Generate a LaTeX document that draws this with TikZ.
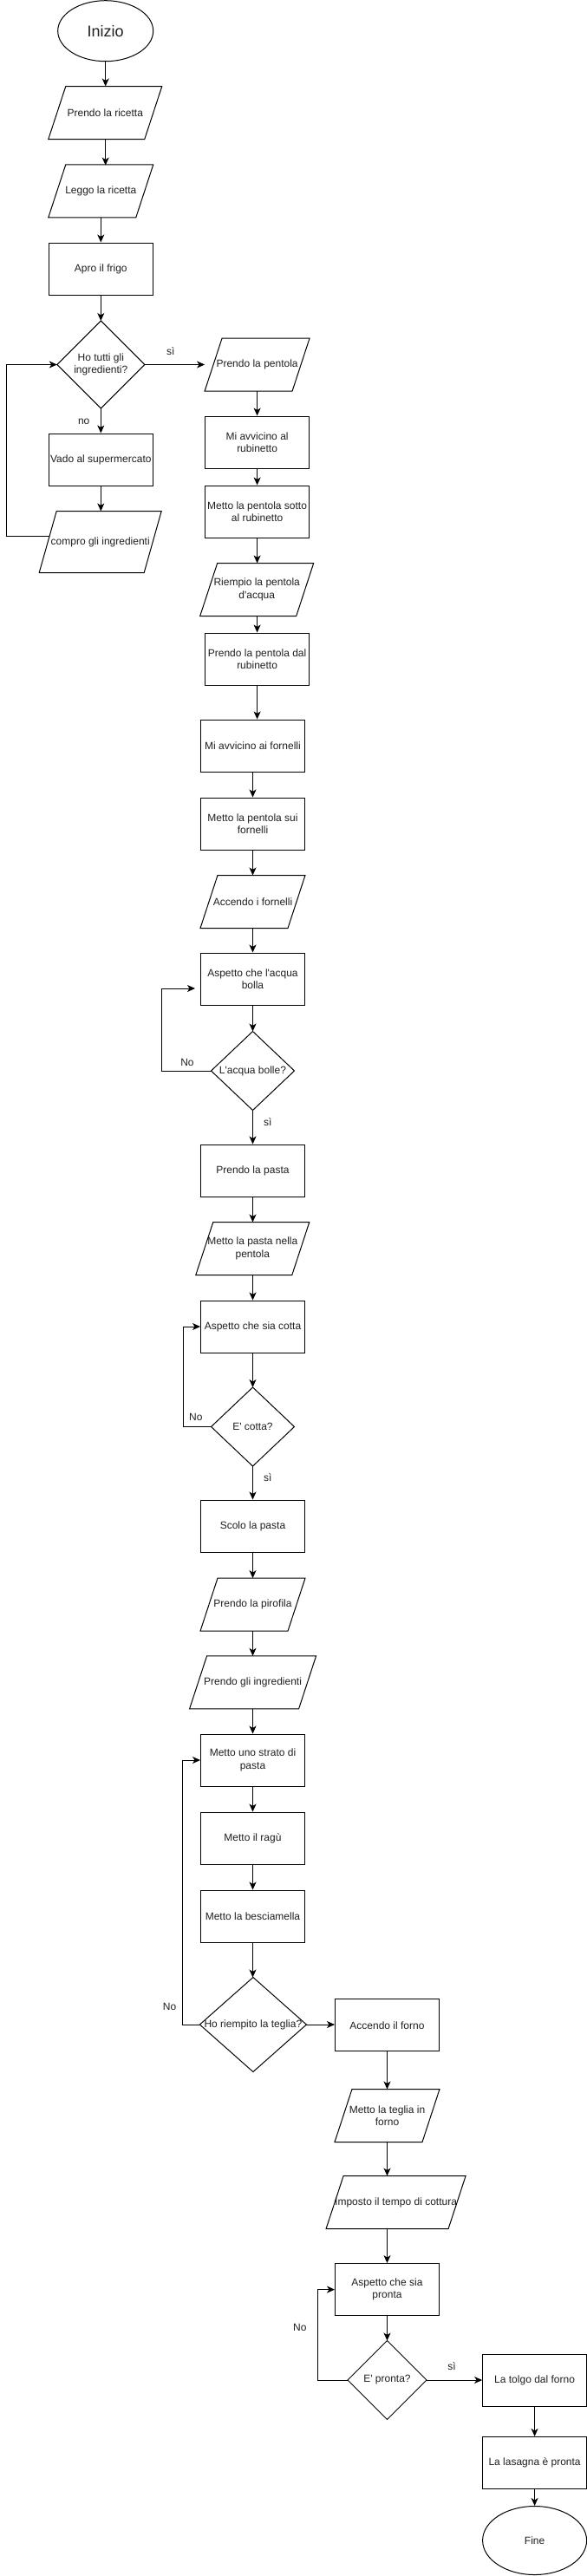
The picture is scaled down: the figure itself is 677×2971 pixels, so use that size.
\documentclass[tikz,border=0pt]{standalone}
\usepackage{fontspec}
\setmainfont{Liberation Sans}[Ligatures=TeXOff]
\usetikzlibrary{arrows.meta,calc,shapes.geometric}
\newcommand\drawpara[1]{\draw ([xshift=20pt]#1.north west) -- (#1.north east) -- ([xshift=-20pt]#1.south east) -- (#1.south west) -- cycle;}
\newcommand\drawdiam[1]{\draw (#1.north) -- (#1.east) -- (#1.south) -- (#1.west) -- cycle;}
\begin{document}
\begin{tikzpicture}[x=1pt,y=-1pt,line width=1pt,
  every node/.style={font=\fontsize{12}{14.5}\selectfont, inner sep=0pt, align=center, text=black!88},
  box/.style={draw, rectangle, minimum width=120pt, minimum height=60pt},
  pbox/.style={rectangle, minimum width=120pt, minimum height=60pt},
  dbox/.style={rectangle},
  term/.style={draw, ellipse, minimum width=120pt, minimum height=80pt},
  lbl/.style={font=\fontsize{12}{14.5}\selectfont},
  arr/.style={draw, -{Stealth[length=9pt,width=8pt,inset=2.5pt]}}
]
\useasboundingbox (0,0) rectangle (677,2971);

% left column
\node[term, minimum width=110pt, minimum height=70pt, font=\fontsize{18}{22}\selectfont] (inizio) at (121.7,35.7) {Inizio};
\node[pbox, minimum width=130pt] (p1) at (121.3,130) {Prendo la ricetta};
\node[pbox] (p2) at (116.3,220.3) {Leggo la ricetta};
\node[box] (r1) at (116.3,310) {Apro il frigo};
\node[dbox, minimum width=100pt, minimum height=100pt] (d1) at (116.3,420.5) {Ho tutti gli\\ingredienti?};
\node[box] (r2) at (116.3,530) {Vado al supermercato};
\node[pbox, minimum width=140pt, minimum height=70pt] (p3) at (115.7,625) {compro gli ingredienti};

% second column
\node[pbox] (p4) at (296.6,420.5) {Prendo la pentola};
\node[box] (r3) at (296.6,510) {Mi avvicino al\\rubinetto};
\node[box] (r4) at (296.6,590) {Metto la pentola sotto\\al rubinetto};
\node[pbox, minimum width=130pt] (p5) at (296.2,680) {Riempio la pentola\\d'acqua};
\node[box] (r5) at (296.6,760) {Prendo la pentola dal\\rubinetto};
\node[box] (r6) at (291.5,860) {Mi avvicino ai fornelli};
\node[box] (r7) at (291.5,950) {Metto la pentola sui\\fornelli};
\node[pbox] (p6) at (291.5,1040) {Accendo i fornelli};
\node[box] (r8) at (291.5,1129) {Aspetto che l'acqua\\bolla};
\node[dbox, minimum width=95pt, minimum height=90pt] (d2) at (291.5,1235) {L'acqua bolle?};
\node[box] (r9) at (291.5,1350) {Prendo la pasta};
\node[pbox, minimum width=130pt] (p7) at (291.3,1440) {Metto la pasta nella\\pentola};
\node[box] (r10) at (291.5,1530) {Aspetto che sia cotta};
\node[dbox, minimum width=95pt, minimum height=90pt] (d3) at (291.5,1645.5) {E' cotta?};
\node[box] (r11) at (291.5,1760) {Scolo la pasta};
\node[pbox] (p8) at (291.5,1850.6) {Prendo la pirofila};
\node[pbox, minimum width=145pt] (p9) at (291.6,1940.3) {Prendo gli ingredienti};
\node[box] (r12) at (291.5,2030) {Metto uno strato di\\pasta};
\node[box] (r13) at (291.5,2120) {Metto il ragù};
\node[box] (r14) at (291.5,2210) {Metto la besciamella};
\node[dbox, minimum width=122pt, minimum height=108pt] (d4) at (291.9,2335) {Ho riempito la teglia?};

% third column
\node[box] (r15) at (446.5,2335.7) {Accendo il forno};
\node[pbox] (p10) at (446.5,2440) {Metto la teglia in\\forno};
\node[pbox, minimum width=160pt] (p11) at (456.6,2540) {Imposto il tempo di cottura};
\node[box] (r16) at (446.5,2640.6) {Aspetto che sia\\pronta};
\node[dbox, minimum width=90pt, minimum height=90pt] (d5) at (446.5,2745) {E' pronta?};

% fourth column
\node[box] (r17) at (616.6,2745) {La tolgo dal forno};
\node[box] (r18) at (616.6,2840.4) {La lasagna è pronta};
\node[term, minimum width=120pt, minimum height=79pt] (fine) at (616.6,2930) {Fine};

% outlines
\foreach \n in {p1,p2,p3,p4,p5,p6,p7,p8,p9,p10,p11} {\drawpara{\n}}
\foreach \n in {d1,d2,d3,d4,d5} {\drawdiam{\n}}

% labels
\node[lbl] (l1) at (196.7,405) {sì};
\node[lbl] (l2) at (96.7,486) {no};
\node[lbl] (l3) at (216,1225) {No};
\node[lbl] (l4) at (308.7,1294) {sì};
\node[lbl] (l5) at (225.8,1634) {No};
\node[lbl] (l6) at (308.7,1704) {sì};
\node[lbl] (l7) at (195.6,2314.6) {No};
\node[lbl] (l8) at (345.9,2684) {No};
\node[lbl] (l9) at (521,2729.6) {sì};

% connectors
\draw[arr] (inizio.south) -- (inizio.south |- p1.north);
\draw[arr] (121.7,160) -- (121.7,190.6);
\draw[arr] (p2.south) -- (p2.south |- r1.north);
\draw[arr] (r1.south) -- (d1.north);
\draw[arr] (d1.south) -- (r2.north);
\draw[arr] (r2.south) -- (r2.south |- p3.north);
\coordinate (p3l) at ($([xshift=20pt]p3.north west)!0.404!(p3.south west)$);
\draw[arr] (p3l) -| (7.3,420.5) -- (d1.west);
\draw[arr] (d1.east) -- (p4.west);
\draw[arr] (p4.south) -- (r3.north);
\draw[arr] (r3.south) -- (r4.north);
\draw[arr] (r4.south) -- (r4.south |- p5.north);
\draw[arr] (p5.south -| r5.north) -- (r5.north);
\draw[arr] (r5.south) -- (r5.south |- r6.north);
\draw[arr] (r6.south) -- (r7.north);
\draw[arr] (r7.south) -- (p6.north);
\draw[arr] (p6.south) -- (r8.north);
\draw[arr] (r8.south) -- (d2.north);
\draw[arr] (d2.west) -| (186.5,1140) -- ([yshift=-11pt,xshift=-6pt]r8.west);
\draw[arr] (d2.south) -- (r9.north);
\draw[arr] (r9.south) -- (r9.south |- p7.north);
\draw[arr] (p7.south -| r10.north) -- (r10.north);
\draw[arr] (r10.south) -- (d3.north);
\draw[arr] (d3.west) -| (211.6,1530) -- (r10.west);
\draw[arr] (d3.south) -- (r11.north);
\draw[arr] (r11.south) -- (p8.north);
\draw[arr] (p8.south) -- (p8.south |- p9.north);
\draw[arr] (p9.south -| r12.north) -- (r12.north);
\draw[arr] (r12.south) -- (r13.north);
\draw[arr] (r13.south) -- (r14.north);
\draw[arr] (r14.south) -- (r14.south |- d4.north);
\draw[arr] (d4.west) -| (210,2030) -- (r12.west);
\draw[arr] (d4.east) -- (d4.east -| r15.west);
\draw[arr] (r15.south) -- (p10.north);
\draw[arr] (p10.south) -- (p10.south |- p11.north);
\draw[arr] (p11.south -| r16.north) -- (r16.north);
\draw[arr] (r16.south) -- (d5.north);
\draw[arr] (d5.west) -| (366.6,2640.6) -- (r16.west);
\draw[arr] (d5.east) -- (r17.west);
\draw[arr] (r17.south) -- (r18.north);
\draw[arr] (r18.south) -- (fine.north);
\end{tikzpicture}
\end{document}
